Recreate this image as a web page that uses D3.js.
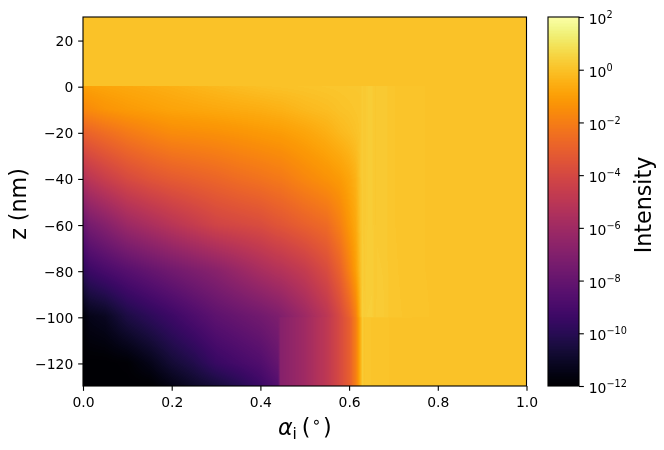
<!DOCTYPE html>
<html><head><meta charset="utf-8">
<script src="https://cdn.jsdelivr.net/npm/d3@7"></script>
<style>
html,body{margin:0;padding:0;background:#fff;width:664px;height:450px;overflow:hidden}
#wrap{position:relative;width:664px;height:450px}
canvas,svg{position:absolute;left:0;top:0}
text{font-family:"DejaVu Sans",sans-serif;fill:#000}
</style></head><body><div id="wrap"></div>
<script>
const alphaGrid=[0,.015,.05,.1,.15,.2,.25,.3,.35,.4,.44,.445,.5,.55,.58,.6,.615,.625,.63,.634,.64,.652,.658,.664,.685,.69,.75,.8,.9,1];
const zGrid=[30,.3,0,-10,-20,-40,-60,-80,-100,-100.4,-120,-130];
const logIntensity=[
[.02,.02,.02,.02,.02,.02,.02,.02,.02,.02,.02,.02,.02,.02,.02,.02,.02,.02,.02,.02,.02,.02,.02,.02,.02,.02,.02,.02,.02,.02],
[.02,.02,.02,.02,.02,.02,.02,.02,.02,.02,.02,.02,.02,.02,.02,.02,.02,.02,.02,.02,.02,.02,.02,.02,.02,.02,.02,.02,.02,.02],
[-.95,-.9,-.82,-.7,-.6,-.5,-.37,-.25,-.15,-.05,0,0,.05,.1,.12,.15,.15,.15,.3,.2,.3,.32,.18,.24,.22,.1,.04,.02,.02,.02],
[-1.7,-1.55,-1.3,-1.11,-.98,-.85,-.78,-.7,-.62,-.55,-.45,-.45,-.25,-.12,0,.05,.1,.13,.3,.2,.3,.32,.18,.24,.22,.1,.04,.02,.02,.02],
[-3,-2.8,-2.5,-2.1,-1.8,-1.55,-1.48,-1.4,-1.28,-1.15,-1.05,-1.05,-.8,-.5,-.25,-.12,0,.1,.3,.2,.3,.32,.18,.24,.22,.1,.04,.02,.02,.02],
[-5.4,-5,-4.5,-3.9,-3.5,-3.2,-3,-2.8,-2.55,-2.35,-2.15,-2.15,-1.7,-1.35,-1.1,-.8,-.45,.05,.3,.2,.3,.32,.18,.24,.22,.1,.04,.02,.02,.02],
[-8,-7.4,-6.9,-6.1,-5.6,-5.1,-4.65,-4.2,-4,-3.8,-3.45,-3.45,-3,-2.6,-1.9,-1.2,-.7,0,.3,.2,.3,.32,.18,.24,.22,.1,.04,.02,.02,.02],
[-9.9,-9.4,-9,-8.5,-8.05,-7.6,-7.2,-6.8,-6.25,-5.7,-5.3,-5.3,-4.7,-3.85,-2.9,-1.9,-1,-.1,.34,.22,.32,.34,.2,.26,.24,.11,.04,.02,.02,.02],
[-11.8,-11.4,-11.2,-10.4,-9.9,-9.4,-8.85,-8.3,-7.95,-7.6,-7.2,-7.1,-6.1,-5,-3.9,-3,-1.9,-.4,.42,.26,.36,.38,.22,.28,.24,.12,.05,.02,.02,.02],
[-11.8,-11.4,-11.2,-10.4,-9.9,-9.4,-8.85,-8.3,-7.95,-7.6,-7.2,-6.9,-6,-4.9,-3.9,-3.1,-2,-.6,.28,.06,.12,.08,.03,.07,.07,.03,.02,.02,.02,.02],
[-12,-12,-12,-11.9,-11.4,-10.7,-10.2,-9.5,-9.1,-8.7,-8,-6.9,-6,-4.9,-3.9,-3.1,-2,-.6,.28,.06,.12,.08,.03,.07,.07,.03,.02,.02,.02,.02],
[-12,-12,-12,-12,-12,-11.5,-11,-10.6,-10.1,-9.4,-8.6,-6.9,-6,-4.9,-3.9,-3.1,-2,-.6,.28,.06,.12,.08,.03,.07,.07,.03,.02,.02,.02,.02]
];
const xTicks=[0,.2,.4,.6,.8,1];
const yTicks=[20,0,-20,-40,-60,-80,-100,-120];
const cbTicks=[2,0,-2,-4,-6,-8,-10,-12];

const W=664,H=450,L=83,R=526.5,T=17,B=386,cL=548,cR=579;
const wrap=d3.select('#wrap');
const x=d3.scaleLinear().domain([0,1]).range([L,R]);
const y=d3.scaleLinear().domain([30,-130]).range([T,B]);
const cb=d3.scaleLog().domain([1e-12,1e2]).range([B,T]);
const color=d3.scaleSequential(d3.interpolateInferno).domain([-12,2]).clamp(true);

const canvas=wrap.append('canvas').attr('width',W).attr('height',H).node();
const ctx=canvas.getContext('2d');
const zAsc=zGrid.slice().reverse();
function sample(a,z){
  let i=Math.min(Math.max(d3.bisectRight(alphaGrid,a)-1,0),alphaGrid.length-2);
  let j=Math.min(Math.max(d3.bisectRight(zAsc,z)-1,0),zAsc.length-2);
  const ta=(a-alphaGrid[i])/(alphaGrid[i+1]-alphaGrid[i]);
  const tz=(z-zAsc[j])/(zAsc[j+1]-zAsc[j]);
  const r0=zGrid.length-1-j,r1=r0-1;
  const v0=logIntensity[r0][i]*(1-ta)+logIntensity[r0][i+1]*ta;
  const v1=logIntensity[r1][i]*(1-ta)+logIntensity[r1][i+1]*ta;
  return v0*(1-tz)+v1*tz;
}
for(let py=T;py<B;py++)for(let px=L;px<Math.ceil(R);px++){
  ctx.fillStyle=color(sample(Math.min(x.invert(px+.5),1),y.invert(py+.5)));
  ctx.fillRect(px,py,1,1);
}
for(let py=T;py<B;py++){
  const v=Math.log10(cb.invert(py+.5));
  const q=Math.floor((v+12)/14*256)/256;
  ctx.fillStyle=color(-12+14*(q+.5/256));
  ctx.fillRect(cL,py,cR-cL,1);
}

const svg=wrap.append('svg').attr('width',W).attr('height',H);
const ts=4.86,lw=1.11,fs=13.9;
function style(g){
  g.selectAll('.domain').remove();
  g.selectAll('line').attr('stroke','#000').attr('stroke-width',lw);
  g.selectAll('text').attr('font-size',fs).attr('fill','#000');
}
svg.append('g').attr('transform',`translate(0,${B})`)
  .call(d3.axisBottom(x).tickValues(xTicks).tickSize(ts).tickPadding(6.5).tickFormat(d3.format('.1f'))).call(style);
const yAxis=svg.append('g').attr('transform',`translate(${L},0.5)`)
  .call(d3.axisLeft(y).tickValues(yTicks).tickSize(ts).tickPadding(4.9).tickFormat(d=>String(d).replace('-','\u2212'))).call(style);
yAxis.selectAll('text').attr('dy','.36em');
const cbAxis=svg.append('g').attr('transform',`translate(${cR},0)`)
  .call(d3.axisRight(cb).tickValues(cbTicks.map(e=>Math.pow(10,e))).tickSize(ts).tickPadding(4.9).tickFormat(()=>'')).call(style);
cbAxis.selectAll('.tick text').each(function(d,i){
  const t=d3.select(this).attr('dy','.48em');
  t.append('tspan').text('10');
  t.append('tspan').attr('font-size',9.7).attr('dy','-.62em').text(String(cbTicks[i]).replace('-','\u2212'));
});
svg.append('rect').attr('x',L).attr('y',T).attr('width',R-L).attr('height',B-T).attr('fill','none').attr('stroke','#000').attr('stroke-width',lw);
svg.append('rect').attr('x',cL).attr('y',T).attr('width',cR-cL).attr('height',B-T).attr('fill','none').attr('stroke','#000').attr('stroke-width',lw);

const lab=svg.append('text').attr('x',(L+R)/2).attr('y',435).attr('text-anchor','middle').attr('font-size',22.2);
lab.append('tspan').attr('font-style','italic').text('\u03b1');
lab.append('tspan').attr('font-size',15.5).attr('dy',4).text('i');
lab.append('tspan').attr('dy',-4).attr('dx',5).text('(');
lab.append('tspan').attr('font-size',15.5).attr('dy',-8).attr('dx',1.2).text('\u2218');
lab.append('tspan').attr('dy',8).attr('dx',1.5).text(')');
svg.append('text').attr('transform',`translate(26,204) rotate(-90)`).attr('text-anchor','middle').attr('font-size',22.2).text('z (nm)');
svg.append('text').attr('transform',`translate(651,205) rotate(-90)`).attr('text-anchor','middle').attr('font-size',22.2).text('Intensity');
</script></body></html>
